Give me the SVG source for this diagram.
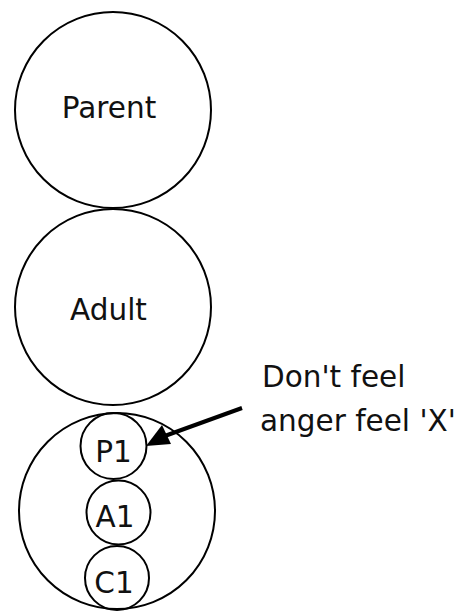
<svg xmlns="http://www.w3.org/2000/svg" width="461" height="612" viewBox="0 0 461 612">
<style>
.c{fill:none;stroke:#000;stroke-width:2}
.t{font-family:"DejaVu Sans",sans-serif;font-size:29.5px;fill:#111}
</style>
<rect width="461" height="612" fill="#fff"/>
<g id="parent"><circle class="c" cx="113" cy="110" r="98"/><text class="t" x="109" y="118" text-anchor="middle">Parent</text></g>
<g id="adult"><circle class="c" cx="113" cy="307" r="98"/><text class="t" x="108.5" y="320" text-anchor="middle">Adult</text></g>
<g id="child"><circle class="c" cx="117" cy="511" r="98"/></g>
<g id="p1"><circle class="c" cx="113.5" cy="446" r="33"/><text class="t" x="113.5" y="462" text-anchor="middle">P1</text></g>
<g id="a1"><circle class="c" cx="118.5" cy="512.5" r="32"/><text class="t" x="115" y="527" text-anchor="middle">A1</text></g>
<g id="c1"><circle class="c" cx="117" cy="578" r="32"/><text class="t" x="114" y="593" text-anchor="middle">C1</text></g>
<g id="label"><text class="t" x="262" y="387">Don't feel</text><text class="t" x="260" y="431">anger feel 'X'</text></g>
<g id="connectors">
<line x1="242" y1="408" x2="162" y2="437" stroke="#000" stroke-width="4"/>
<polygon points="146,446 162,425 171,444" fill="#000"/>
</g>
</svg>
